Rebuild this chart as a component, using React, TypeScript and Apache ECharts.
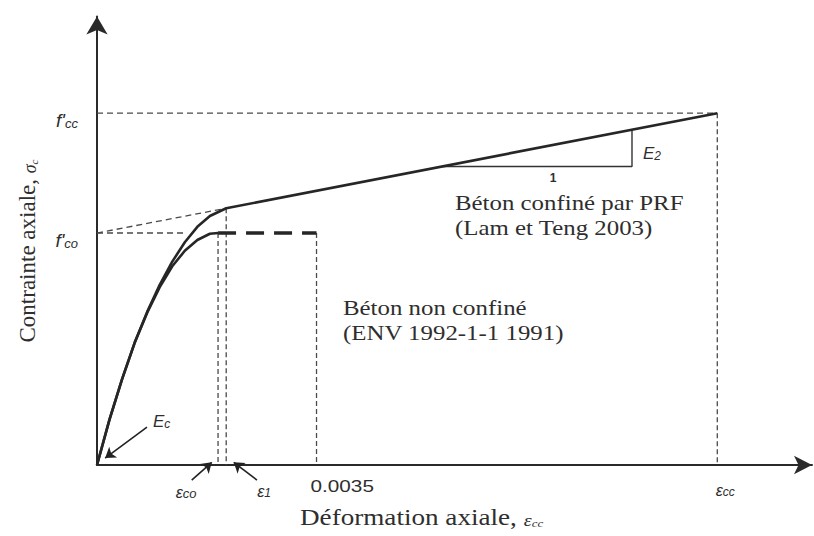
import React, { useEffect, useRef } from "react";
import * as echarts from "echarts";

// ---- data (strain ε, stress σ in MPa) ----
const unconfinedStrain = [0, 0.0002, 0.0004, 0.0006, 0.0008, 0.001, 0.0012, 0.0014, 0.0016, 0.0018, 0.00193];
const unconfinedStress = [0, 5.9, 11.1, 15.8, 19.7, 23.0, 25.7, 27.7, 29.1, 29.9, 30];
const confinedStrain = [0, 0.0002, 0.0004, 0.0006, 0.0008, 0.001, 0.0012, 0.0014, 0.0016, 0.0018, 0.00206, 0.00989];
const confinedStress = [0, 5.9, 11.1, 15.8, 19.8, 23.3, 26.3, 28.8, 30.8, 32.2, 33.2, 45.5];

// key strains: εco, ε1, 0.0035, εcc
const keyStrains = [0.00193, 0.00206, 0.0035, 0.00989];
// key stresses: f'co, σ at ε1, f'cc
const keyStresses = [30, 33.2, 45.5];
// slope triangle (E2)
const triangleStrain = [0.0055, 0.00853, 0.00853];
const triangleStress = [38.6, 38.6, 43.3];
// end of f'co horizontal guide
const fcoGuideEnd = 0.00138;

const X_MAX = 0.0114;
const Y_MAX = 58;

const zip = (xs: number[], ys: number[]) => xs.map((x, i) => [x, ys[i]]);

export default function App() {
  const ref = useRef<HTMLDivElement>(null);

  useEffect(() => {
    if (!ref.current) return;
    const chart = echarts.init(ref.current, null, { renderer: "svg" });
    const [epsCo, eps1, epsCu, epsCc] = keyStrains;
    const [fco, sig1, fcc] = keyStresses;

    const ink = "#262626";
    const guide = "#4a4a4a";
    const thinDash = { color: guide, width: 1.3, type: [6, 4] as number[] };
    const vDash = { color: guide, width: 1.3, type: [5, 3] as number[] };

    const lineS = (data: number[][], lineStyle: any, z = 2) => ({
      type: "line",
      data,
      symbol: "none",
      silent: true,
      clip: false,
      z,
      lineStyle,
    });

    const arrow = (from: number[], to: number[]) => ({
      coords: [from, to],
    });

    chart.setOption({
      animation: false,
      backgroundColor: "#ffffff",
      grid: { left: 97, right: 2, top: 16.5, bottom: 71 },
      xAxis: {
        type: "value",
        min: 0,
        max: X_MAX,
        axisLine: {
          show: true,
          symbol: ["none", "arrow"],
          symbolSize: [14, 18],
          lineStyle: { color: "#2a2a2a", width: 2 },
        },
        axisTick: { show: false },
        axisLabel: { show: false },
        splitLine: { show: false },
      },
      yAxis: {
        type: "value",
        min: 0,
        max: Y_MAX,
        axisLine: {
          show: true,
          symbol: ["none", "arrow"],
          symbolSize: [16, 18],
          lineStyle: { color: "#2a2a2a", width: 2 },
        },
        axisTick: { show: false },
        axisLabel: { show: false },
        splitLine: { show: false },
      },
      series: [
        // guides
        lineS([[0, fco], [fcoGuideEnd, fco]], thinDash, 1),
        lineS([[0, fco], [eps1, sig1]], thinDash, 1),
        lineS([[0, fcc], [epsCc, fcc]], thinDash, 1),
        lineS([[epsCc, fcc], [epsCc, 0]], vDash, 1),
        lineS([[epsCo, fco], [epsCo, 0]], vDash, 1),
        lineS([[eps1, sig1], [eps1, 0]], vDash, 1),
        lineS([[epsCu, fco], [epsCu, 0]], vDash, 1),
        // slope triangle
        lineS(zip(triangleStrain, triangleStress), { color: "#333", width: 1.4 }, 2),
        // unconfined concrete
        lineS(zip(unconfinedStrain, unconfinedStress), { color: ink, width: 2.6 }, 3),
        lineS([[epsCo, fco], [epsCu, fco]], { color: ink, width: 3.4, type: [18, 10] }, 3),
        // confined concrete
        lineS(zip(confinedStrain, confinedStress), { color: ink, width: 2.6 }, 4),
        // arrows
        {
          type: "lines",
          coordinateSystem: "cartesian2d",
          clip: false,
          silent: true,
          z: 5,
          symbol: ["none", "arrow"],
          symbolSize: 10,
          lineStyle: { color: "#222", width: 1.6, opacity: 1 },
          data: [
            arrow([0.000797, 4.91], [0.00013, 0.9]),
            arrow([epsCo - 0.00042, -1.95], [epsCo - 0.0001, 0.35]),
            arrow([eps1 + 0.00049, -1.95], [eps1 + 0.00012, 0.35]),
          ],
        },
      ],
    });

    const px = (x: number, y: number) =>
      chart.convertToPixel({ gridIndex: 0 }, [x, y]) as number[];
    const [x0, y0] = px(0, 0);
    const [, yFcc] = px(0, fcc);
    const [, yFco] = px(0, fco);
    const [xCo] = px(epsCo, 0);
    const [x1] = px(eps1, 0);
    const [xCu] = px(epsCu, 0);
    const [xCc] = px(epsCc, 0);

    const serif = "'Liberation Serif', 'Times New Roman', serif";
    const sans = "'Liberation Sans', Arial, sans-serif";
    const txt = "#2e2e2e";

    const symRich = (big: number, small: number) => ({
      m: { fontFamily: sans, fontStyle: "italic", fontSize: big, fill: txt, lineHeight: big + 4, verticalAlign: "bottom" },
      s: { fontFamily: sans, fontStyle: "italic", fontSize: small, fill: txt, lineHeight: 8, verticalAlign: "bottom" },
    });

    const t = (x: number, y: number, style: any, extra: any = {}) => ({
      type: "text",
      x,
      y,
      silent: true,
      z: 10,
      ...extra,
      style: { fill: txt, ...style },
    });

    chart.setOption({
      graphic: [
        // annotations
        t(455, 215, {
          text: "Béton confiné par PRF\n(Lam et Teng 2003)",
          fontFamily: serif,
          fontSize: 22,
          lineHeight: 26,
          align: "left",
          verticalAlign: "middle",
        }, { scaleX: 1.13 }),
        t(343, 320, {
          text: "Béton non confiné\n(ENV 1992-1-1 1991)",
          fontFamily: serif,
          fontSize: 22,
          lineHeight: 26,
          align: "left",
          verticalAlign: "middle",
        }, { scaleX: 1.13 }),
        // axis titles
        t(300, 516, {
          text: "{a|Déformation axiale, }{e|ε}{s|cc}",
          align: "left",
          verticalAlign: "middle",
          rich: {
            a: { fontFamily: serif, fontSize: 23, fill: txt, lineHeight: 26, verticalAlign: "bottom" },
            e: { fontFamily: serif, fontStyle: "italic", fontSize: 17, fill: txt, lineHeight: 22, verticalAlign: "bottom" },
            s: { fontFamily: serif, fontStyle: "italic", fontSize: 11, fill: txt, lineHeight: 14, verticalAlign: "bottom" },
          },
        }, { scaleX: 1.18 }),
        t(26, 251, {
          text: "{a|Contrainte axiale, }{e|σ}{s|c}",
          align: "center",
          verticalAlign: "middle",
          rich: {
            a: { fontFamily: serif, fontSize: 23, fill: txt, lineHeight: 26, verticalAlign: "bottom" },
            e: { fontFamily: serif, fontStyle: "italic", fontSize: 18, fill: txt, lineHeight: 24, verticalAlign: "bottom" },
            s: { fontFamily: serif, fontStyle: "italic", fontSize: 11, fill: txt, lineHeight: 14, verticalAlign: "bottom" },
          },
        }, { rotation: Math.PI / 2 }),
        // y tick labels
        t(x0 - 19, yFcc + 5, { text: "{m|f'}{s|cc}", align: "right", verticalAlign: "middle", rich: symRich(19, 13) }),
        t(x0 - 19, yFco + 5, { text: "{m|f'}{s|co}", align: "right", verticalAlign: "middle", rich: symRich(19, 13) }),
        // x tick labels
        t(xCo - 32, y0 + 25, { text: "{m|ε}{s|co}", align: "center", verticalAlign: "middle", rich: symRich(16, 13) }),
        t(x1 + 38, y0 + 24, { text: "{m|ε}{s|1}", align: "center", verticalAlign: "middle", rich: symRich(16, 12) }),
        t(xCc + 8, y0 + 23, { text: "{m|ε}{s|cc}", align: "center", verticalAlign: "middle", rich: symRich(16, 12) }),
        t(xCu - 6, y0 + 21, {
          text: "0.0035",
          fontFamily: sans,
          fontSize: 17,
          align: "left",
          verticalAlign: "middle",
        }, { scaleX: 1.22 }),
        // modulus labels
        t(153, 419, { text: "{m|E}{s|c}", align: "left", verticalAlign: "middle", rich: symRich(17, 12) }),
        t(643, 151, { text: "{m|E}{s|2}", align: "left", verticalAlign: "middle", rich: symRich(17, 12) }),
        t(553, 178, { text: "1", fontFamily: sans, fontSize: 12, fontWeight: "bold", align: "center", verticalAlign: "middle" }),
      ],
    });

    return () => chart.dispose();
  }, []);

  return (
    <div
      ref={ref}
      style={{ position: "absolute", left: 0, top: 0, width: 814, height: 536, background: "#fff" }}
    />
  );
}
